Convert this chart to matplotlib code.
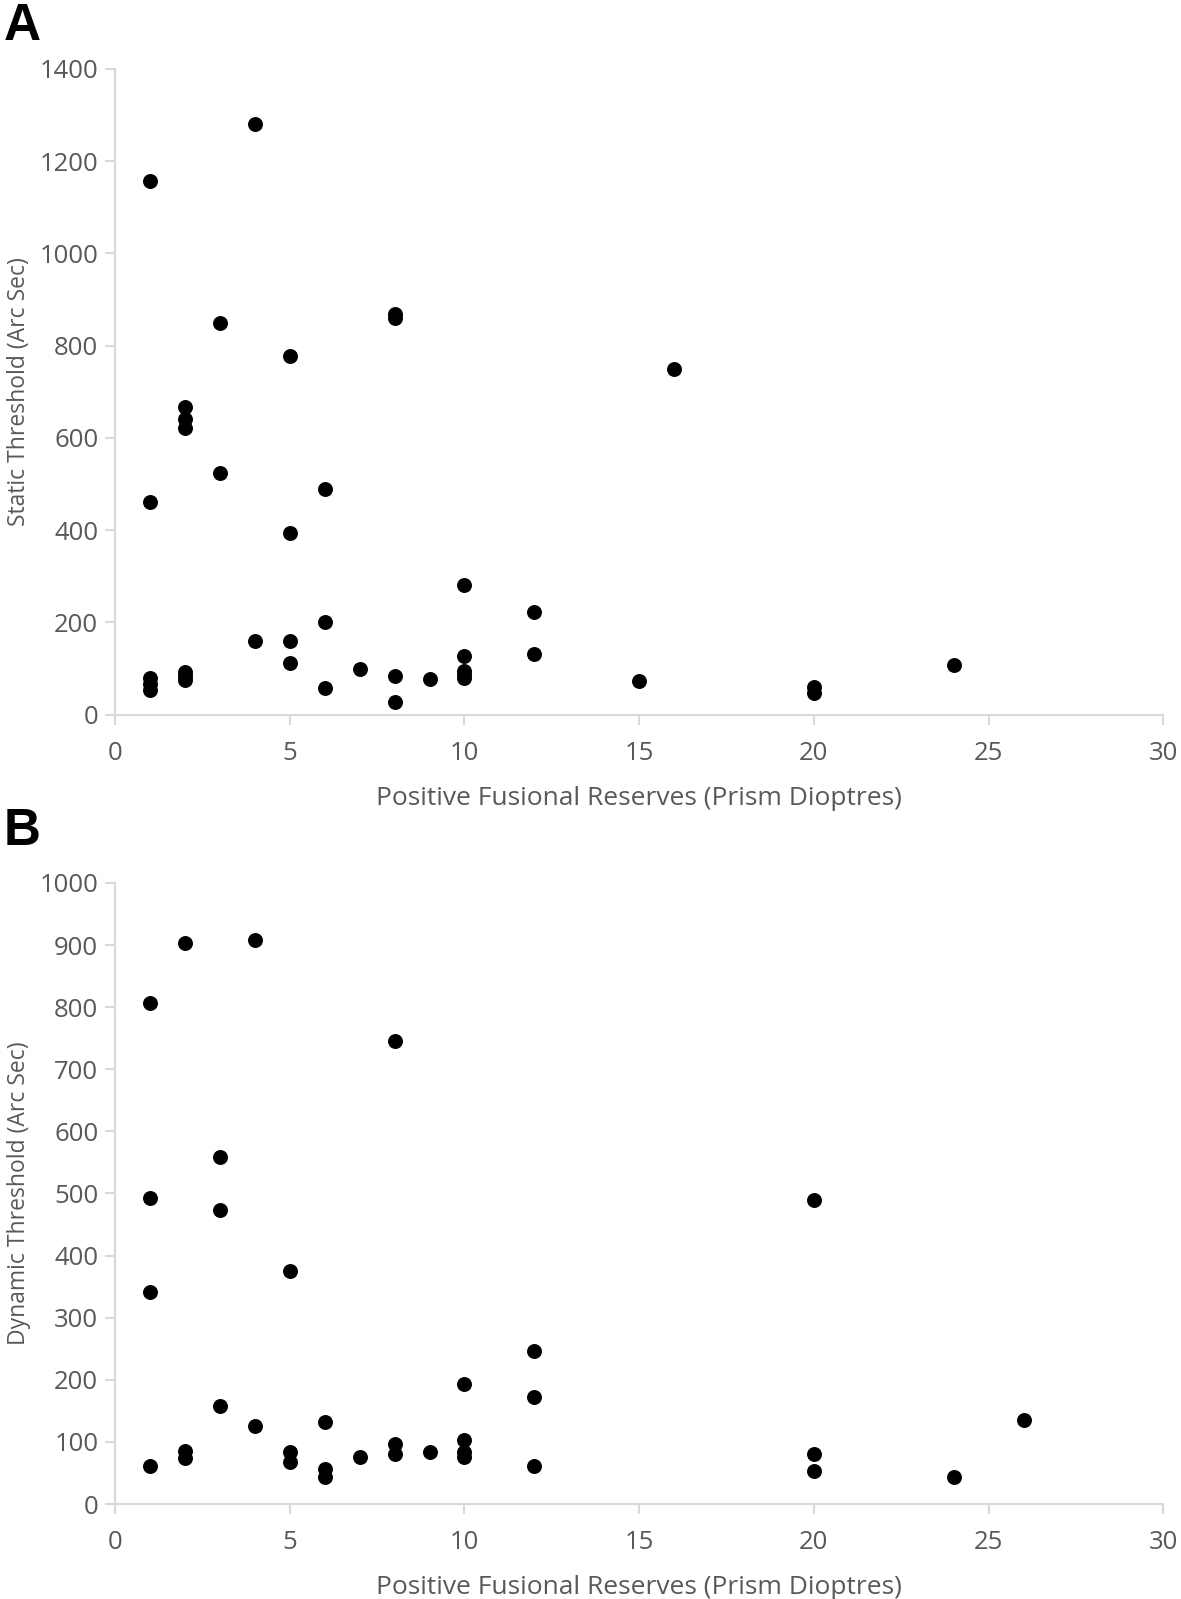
import matplotlib
matplotlib.use("Agg")
import matplotlib.pyplot as plt

# Panel A - static threshold vs positive fusional reserves
static_x = [1, 1, 1, 1, 1,
            2, 2, 2, 2, 2, 2,
            3, 3,
            4, 4,
            5, 5, 5, 5,
            6, 6, 6,
            7,
            8, 8, 8, 8,
            9,
            10, 10, 10, 10, 10,
            12, 12,
            15, 16,
            20, 20,
            24]
static_y = [1157, 460, 80, 66, 54,
            668, 640, 622, 92, 84, 76,
            850, 524,
            1280, 160,
            778, 393, 160, 112,
            490, 202, 58,
            100,
            868, 860, 85, 28,
            78,
            282, 128, 95, 88, 80,
            222, 132,
            73, 750,
            60, 48,
            108]

# Panel B - dynamic threshold vs positive fusional reserves
dynamic_x = [1, 1, 1, 1,
             2, 2, 2,
             3, 3, 3,
             4, 4,
             5, 5, 5,
             6, 6, 6,
             7,
             8, 8, 8,
             9,
             10, 10, 10, 10,
             12, 12, 12,
             20, 20, 20,
             24, 26]
dynamic_y = [806, 492, 342, 62,
             903, 86, 74,
             558, 474, 158,
             908, 125,
             375, 84, 67,
             132, 57, 43,
             75,
             745, 97, 80,
             84,
             193, 103, 84, 76,
             247, 173, 62,
             490, 80, 53,
             44, 136]

xticks = [0, 5, 10, 15, 20, 25, 30]
grey = "#595959"
axis_col = "#d9d9d9"
plt.rcParams['font.family'] = ['Open Sans', 'DejaVu Sans']

fig = plt.figure(figsize=(11.81, 15.99), dpi=100)
axA = fig.add_axes([0.0974, 0.553, 0.8876, 0.404])
axB = fig.add_axes([0.0974, 0.0594, 0.8876, 0.3884])


def style(ax, ymax, ystep, ylabel):
    ax.set_xlim(0, 30)
    ax.set_ylim(0, ymax)
    ax.set_xticks(xticks)
    ax.set_yticks(range(0, ymax + 1, ystep))
    for s in ['top', 'right']:
        ax.spines[s].set_visible(False)
    for s in ['left', 'bottom']:
        ax.spines[s].set_color(axis_col)
        ax.spines[s].set_linewidth(1.5)
    ax.tick_params(colors=axis_col, labelcolor=grey, labelsize=18.5,
                   length=7, width=1.5, direction='out')
    ax.tick_params(axis='x', pad=12)
    ax.tick_params(axis='y', pad=5)
    ax.set_xlabel('Positive Fusional Reserves (Prism Dioptres)', fontsize=19,
                  color=grey, labelpad=14)
    ax.set_ylabel(ylabel, fontsize=16.5, color=grey, labelpad=6)


axA.scatter(static_x, static_y, s=95, color='black', zorder=3, clip_on=False)
style(axA, 1400, 200, 'Static Threshold (Arc Sec)')

axB.scatter(dynamic_x, dynamic_y, s=95, color='black', zorder=3, clip_on=False)
style(axB, 1000, 100, 'Dynamic Threshold (Arc Sec)')

fig.text(0.003, 0.9985, 'A', fontsize=37, fontweight='bold',
         family='Liberation Sans', va='top', ha='left')
fig.text(0.003, 0.480, 'B', fontsize=37, fontweight='bold',
         family='Liberation Sans', va='center', ha='left')

fig.savefig('out.png', dpi=100)
